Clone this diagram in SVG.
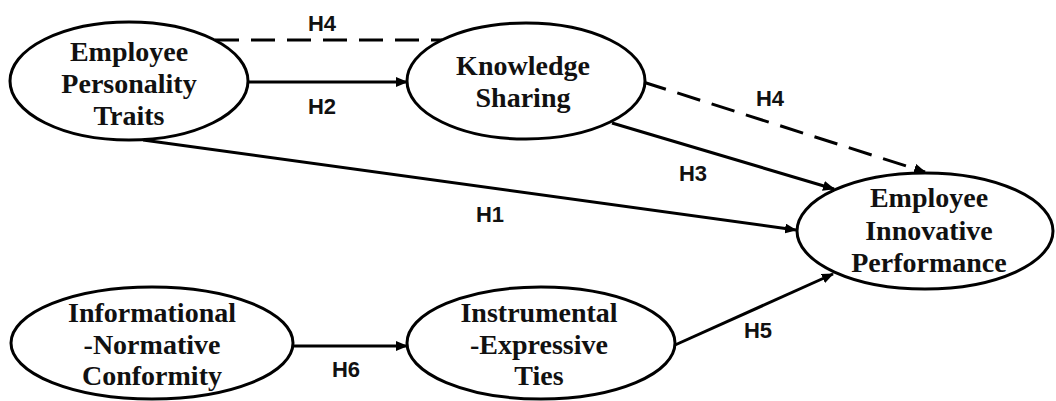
<svg xmlns="http://www.w3.org/2000/svg" width="1056" height="401" viewBox="0 0 1056 401">
<defs>
<style>
.node{fill:#fff;stroke:#000;stroke-width:3}
.nt{font-family:'Liberation Serif','DejaVu Serif',serif;font-weight:bold;font-size:28px;fill:#111;text-anchor:middle}
.lbl{font-family:'Liberation Sans','DejaVu Sans',sans-serif;font-weight:bold;font-size:22px;fill:#111;text-anchor:middle}
.e{stroke:#000;stroke-width:3;fill:none}
.d{stroke-dasharray:24 12}
</style>
<marker id="ah" viewBox="0 0 12 10" refX="11" refY="5" markerWidth="12" markerHeight="10" markerUnits="userSpaceOnUse" orient="auto">
<path d="M0,0 L12,5 L0,10 Z" fill="#000"/>
</marker>
</defs>
<rect width="1056" height="401" fill="#fff"/>
<g id="connectors">
<line class="e d" x1="215" y1="40" x2="442" y2="40"/>
<line class="e" x1="248" y1="82" x2="407" y2="82" marker-end="url(#ah)"/>
<line class="e d" x1="643" y1="82" x2="925" y2="172" marker-end="url(#ah)"/>
<line class="e" x1="612" y1="123" x2="834" y2="189" marker-end="url(#ah)"/>
<line class="e" x1="143" y1="140" x2="796" y2="230" marker-end="url(#ah)"/>
<line class="e" x1="293" y1="346" x2="407" y2="346" marker-end="url(#ah)"/>
<line class="e" x1="675" y1="345" x2="833" y2="274" marker-end="url(#ah)"/>
<text class="lbl" x="322" y="31">H4</text>
<text class="lbl" x="322" y="114">H2</text>
<text class="lbl" x="770" y="106">H4</text>
<text class="lbl" x="693" y="181">H3</text>
<text class="lbl" x="490" y="222">H1</text>
<text class="lbl" x="758" y="338">H5</text>
<text class="lbl" x="346" y="377">H6</text>
</g>
<g id="ept">
<ellipse class="node" cx="129" cy="81" rx="119" ry="59"/>
<text class="nt" x="129" y="61" font-family="Liberation Serif, serif">Employee</text>
<text class="nt" x="129" y="93" font-family="Liberation Serif, serif">Personality</text>
<text class="nt" x="129" y="125" font-family="Liberation Serif, serif">Traits</text>
</g>
<g id="ks">
<ellipse class="node" cx="526" cy="81" rx="119" ry="58"/>
<text class="nt" x="523" y="75">Knowledge</text>
<text class="nt" x="523" y="107">Sharing</text>
</g>
<g id="eip">
<ellipse class="node" cx="925" cy="231" rx="128" ry="58"/>
<text class="nt" x="929" y="207">Employee</text>
<text class="nt" x="929" y="240">Innovative</text>
<text class="nt" x="929" y="272">Performance</text>
</g>
<g id="inc">
<ellipse class="node" cx="152" cy="343" rx="141" ry="56"/>
<text class="nt" x="152" y="322">Informational</text>
<text class="nt" x="152" y="354">-Normative</text>
<text class="nt" x="152" y="385">Conformity</text>
</g>
<g id="iet">
<ellipse class="node" cx="541" cy="343" rx="134" ry="56"/>
<text class="nt" x="539" y="322">Instrumental</text>
<text class="nt" x="539" y="354">-Expressive</text>
<text class="nt" x="539" y="385">Ties</text>
</g>
</svg>
